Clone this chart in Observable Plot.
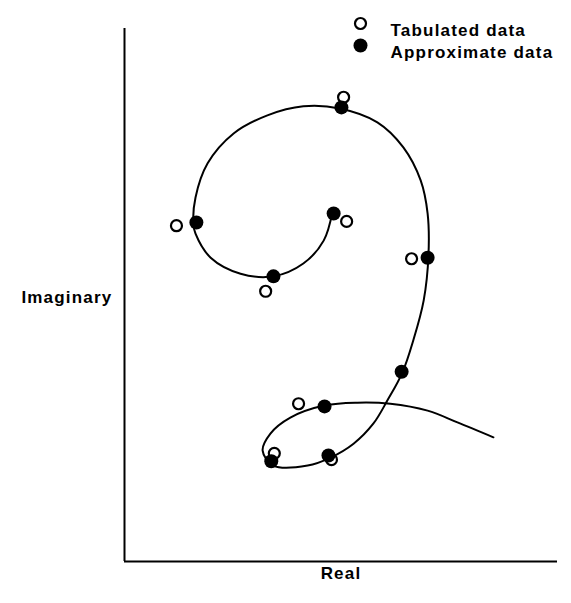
<!DOCTYPE html>
<html><head><meta charset="utf-8">
<script src="https://cdn.jsdelivr.net/npm/d3@7"></script>
<script src="https://cdn.jsdelivr.net/npm/@observablehq/plot@0.6"></script>
<style>body{margin:0;background:#fff}</style>
</head><body><div id="chart"></div>
<script>
// Smooth spiral traced through the reference (arbitrary Real / Imaginary units)
const curveRe = [48.0,46.0,41.3,34.4,26.8,19.9,16.4,15.9,16.4,19.2,25.2,33.0,41.3,49.7,58.4,64.4,68.4,70.0,70.2,69.1,66.7,64.2,60.7,57.5,52.9,47.6,42.3,34.4,31.9,33.7,38.3,46.4,53.8,61.4,70.0,76.9,85.2];
const curveIm = [65.5,60.2,55.9,53.5,54.0,57.0,61.5,63.4,68.3,74.7,80.3,83.7,85.4,85.0,82.4,77.7,71.5,65.3,57.4,49.0,41.5,35.5,30.2,25.9,22.1,19.5,18.0,18.0,20.8,24.0,27.0,29.3,29.8,29.6,28.3,26.1,23.3];
// Approximate data (filled)
const approxRe = [50.1,16.6,48.3,34.4,70.0,64.0,46.2,47.1,33.9];
const approxIm = [85.2,63.6,65.3,53.5,57.0,35.6,29.1,19.9,18.8];
// Tabulated data (open)
const tabRe = [50.6,12.0,51.3,32.6,66.3,40.2,34.6,47.8];
const tabIm = [87.1,63.0,63.8,50.7,56.8,29.6,20.3,19.1];
const legendLabels = ["Tabulated data", "Approximate data"];
const xLabel = "Real";
const yLabel = "Imaginary";

const curve = curveRe.map((re, i) => ({re, im: curveIm[i]}));
const approx = approxRe.map((re, i) => ({re, im: approxIm[i]}));
const tab = tabRe.map((re, i) => ({re, im: tabIm[i]}));

const font = "'Liberation Sans', Arial, Helvetica, sans-serif";
const txt = {fill: "#000", fontSize: 17, fontWeight: "bold"};

const chart = Plot.plot({
  width: 571, height: 603,
  marginLeft: 124, marginRight: 14, marginTop: 28, marginBottom: 42,
  x: {domain: [0, 100], axis: null},
  y: {domain: [0, 100], axis: null},
  style: {fontFamily: font, background: "#fff", letterSpacing: "1.2px", overflow: "visible"},
  marks: [
    Plot.ruleX([0], {stroke: "#000", strokeWidth: 2}),
    Plot.ruleY([0], {stroke: "#000", strokeWidth: 2}),
    Plot.line(curve, {x: "re", y: "im", curve: "catmull-rom", stroke: "#000", strokeWidth: 2}),
    Plot.dot(tab, {x: "re", y: "im", r: 5.5, fill: "#fff", stroke: "#000", strokeWidth: 2.2}),
    Plot.dot(approx, {x: "re", y: "im", r: 7, fill: "#000", stroke: "none"}),
    Plot.text([xLabel], {text: d => d, frameAnchor: "bottom", dy: 17, ...txt}),
    Plot.text([yLabel], {text: d => d, frameAnchor: "left", textAnchor: "end", dx: -12, dy: 3, ...txt}),
    Plot.dot([legendLabels[0]], {frameAnchor: "top-left", dx: 236, dy: -5, r: 5.5, fill: "#fff", stroke: "#000", strokeWidth: 2.2}),
    Plot.dot([legendLabels[1]], {frameAnchor: "top-left", dx: 236, dy: 17, r: 7, fill: "#000", stroke: "none"}),
    Plot.text([legendLabels[0]], {text: d => d, frameAnchor: "top-left", textAnchor: "start", dx: 266, dy: -5, ...txt}),
    Plot.text([legendLabels[1]], {text: d => d, frameAnchor: "top-left", textAnchor: "start", dx: 266, dy: 17, ...txt})
  ]
});
document.getElementById("chart").appendChild(chart);
</script>
</body></html>
